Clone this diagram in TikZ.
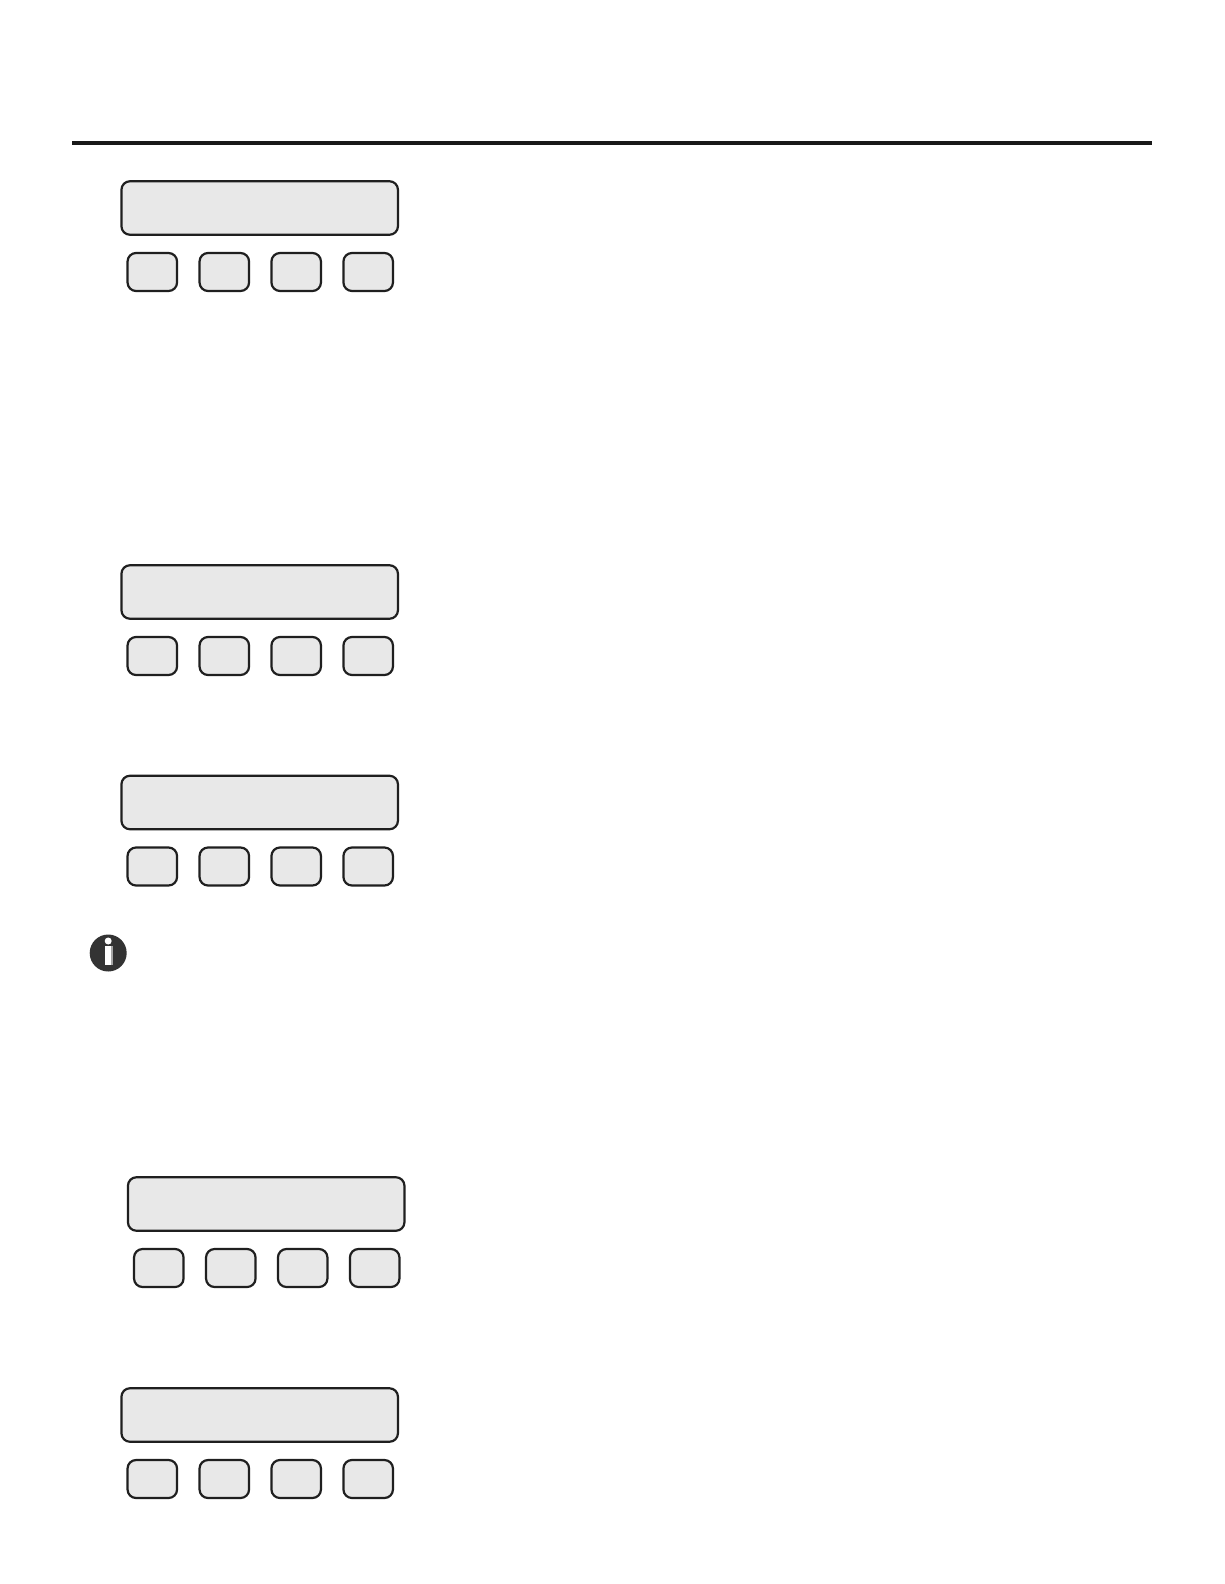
\documentclass[tikz,border=0pt]{standalone}
\tikzset{
  panelbase/.style={draw=black!88,fill=black!9,line width=2.2pt,rounded corners=8.5pt,inner sep=0pt,outer sep=0pt},
  displaybox/.style={panelbase,minimum width=276.5pt,minimum height=53.5pt},
  keybox/.style={panelbase,minimum width=49.5pt,minimum height=38pt},
  rulebar/.style={line width=3.6pt,black!90}
}
\newcommand{\panelgroup}[3]{%
  \node[displaybox] (d#1) at (#2+259.7,#3+27) {};
  \node[keybox] (k#1a) at (#2+152.3,#3+91) {};
  \node[keybox] (k#1b) at (#2+224.3,#3+91) {};
  \node[keybox] (k#1c) at (#2+296.2,#3+91) {};
  \node[keybox] (k#1d) at (#2+368.2,#3+91) {};
}
\begin{document}
\begin{tikzpicture}[x=1pt,y=-1pt]
\useasboundingbox[fill=white] (0,0) rectangle (1224,1584);
\coordinate (rl) at (72,142.8);
\coordinate (rr) at (1152,142.8);
\draw[rulebar] (rl) -- (rr);
\panelgroup{1}{0}{181}
\panelgroup{2}{0}{565}
\panelgroup{3}{0}{775.5}
\panelgroup{4}{6.5}{1177}
\panelgroup{5}{0}{1388}
\node[circle,fill=black!80,minimum size=37pt,inner sep=0pt] (info) at (108.2,953) {};
\node[circle,fill=white,minimum size=7pt,inner sep=0pt] (infodot) at (108.2,941) {};
\node[fill=black!35,minimum width=7.5pt,minimum height=19.5pt,inner sep=0pt] (infoshade) at (109.2,955.5) {};
\node[fill=white,minimum width=5.5pt,minimum height=19.5pt,inner sep=0pt] (infobar) at (108.2,955.5) {};
\end{tikzpicture}
\end{document}
